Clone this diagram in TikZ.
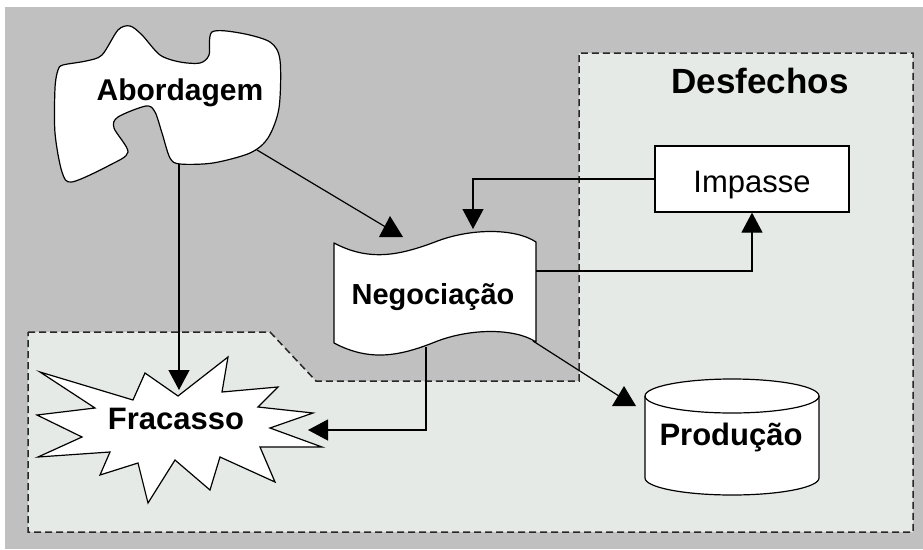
\documentclass[tikz,border=0pt]{standalone}
\usepackage{fontspec}
\setmainfont{Liberation Sans}
\usetikzlibrary{arrows.meta}
\definecolor{bggray}{HTML}{C0C0C0}
\definecolor{paleregion}{HTML}{E6EAE6}
\begin{document}
\begin{tikzpicture}[x=1pt,y=-1pt,
  outline/.style={draw=black, line width=1.2pt, fill=white, line join=round},
  conn/.style={draw=black, line width=1.2pt},
  arr/.style={conn, -{Triangle[width=21pt,length=20pt]}},
  lbl/.style={font=\bfseries\fontsize{30}{36}\selectfont, inner sep=0pt, anchor=base},
  region/.style={draw=black!85, line width=1.5pt, dash pattern=on 7pt off 4pt, fill=paleregion},
  tri/.style={fill=black}
]
\useasboundingbox (0,0) rectangle (923,549);
\fill[white] (0,0) rectangle (923,549);
\fill[bggray] (5,7) rectangle (923,549);

% outcome region
\draw[region] (28,332) -- (270,332) -- (316,381) -- (579,381) -- (579,53)
  -- (913,53) -- (913,532) -- (28,532) -- cycle;

% Abordagem cloud
\draw[outline] plot[smooth cycle, tension=0.5] coordinates {
  (63,65) (86,61) (102,55) (118,30) (130,26) (142,35) (160,55) (180,62) (200,63)
  (209,55) (212,32) (240,33) (270,42) (280,60) (279,108) (268,138)
  (250,153) (213,163) (180,164) (170,158) (162,133) (155,112)
  (146,106) (118,117) (114,128) (128,152) (110,165) (72,182) (62,172)
  (55,133) (55,88) (58,70)};
\node[lbl] (abord) at (180,100) {Abordagem};
\coordinate (abBottom) at (179,164);
\coordinate (abRight) at (257,150);

% Negociacao tape
\draw[outline] (334,243) .. controls (370,262) and (400,255) .. (435,242)
  .. controls (470,228) and (515,228) .. (536,242) -- (536,342)
  .. controls (515,328) and (470,328) .. (435,342)
  .. controls (400,356) and (370,362) .. (334,343) -- cycle;
\node[lbl, font=\bfseries\fontsize{29}{34}\selectfont] (neg) at (433,304) {Negociação};
\coordinate (negTop) at (473,229);
\coordinate (negRight) at (536,271);
\coordinate (negBottom) at (426,347);
\coordinate (negCorner) at (533,341);
\coordinate (negIn) at (389,229);

% Impasse box
\node[draw=black, line width=1.2pt, fill=white, minimum width=194pt, minimum height=66pt,
  inner sep=0pt] (imp) at (752,179) {};
\node[lbl, font=\fontsize{31}{36}\selectfont] (imptxt) at (752,192) {Impasse};

% Desfechos title
\node[lbl, font=\bfseries\fontsize{35}{42}\selectfont] (desf) at (760,93) {Desfechos};

% Fracasso star
\draw[outline, line join=miter] (40,372) -- (133,400) -- (145,373) -- (178,396) -- (228,357)
  -- (222,392) -- (278,387) -- (258,407) -- (313,413) -- (270,428) -- (322,447)
  -- (260,447) -- (275,482) -- (220,457) -- (210,490) -- (175,460) -- (148,503)
  -- (138,463) -- (100,475) -- (110,452) -- (38,457) -- (82,437) -- (37,415)
  -- (95,408) -- cycle;
\node[lbl, font=\bfseries\fontsize{31}{36}\selectfont] (frac) at (176,429) {Fracasso};
\coordinate (fracTop) at (179,390);
\coordinate (fracRight) at (308,430);

% Producao cylinder
\draw[outline] (645,396) -- (645,478)
  arc[start angle=180, end angle=0, x radius=87, y radius=17] -- (819,396)
  arc[start angle=0, end angle=-180, x radius=87, y radius=17] -- cycle;
\draw[conn] (645,396) arc[start angle=180, end angle=0, x radius=87, y radius=17];
\node[lbl, font=\bfseries\fontsize{31}{36}\selectfont] (prod) at (731,445) {Produção};
\coordinate (prodIn) at (622,398);

% connectors
\draw[arr] (abBottom) -- (fracTop);
\draw[conn] (abRight) -- (negIn);
\fill[tri] (390,216) -- (403,237) -- (379,237) -- cycle;
\draw[arr] (imp.west) -| (negTop);
\draw[arr] (negRight) -| (imp.south);
\draw[arr] (negBottom) |- (fracRight);
\draw[conn] (negCorner) -- (prodIn);
\fill[tri] (624,386) -- (636,406) -- (612,406) -- cycle;
\end{tikzpicture}
\end{document}
